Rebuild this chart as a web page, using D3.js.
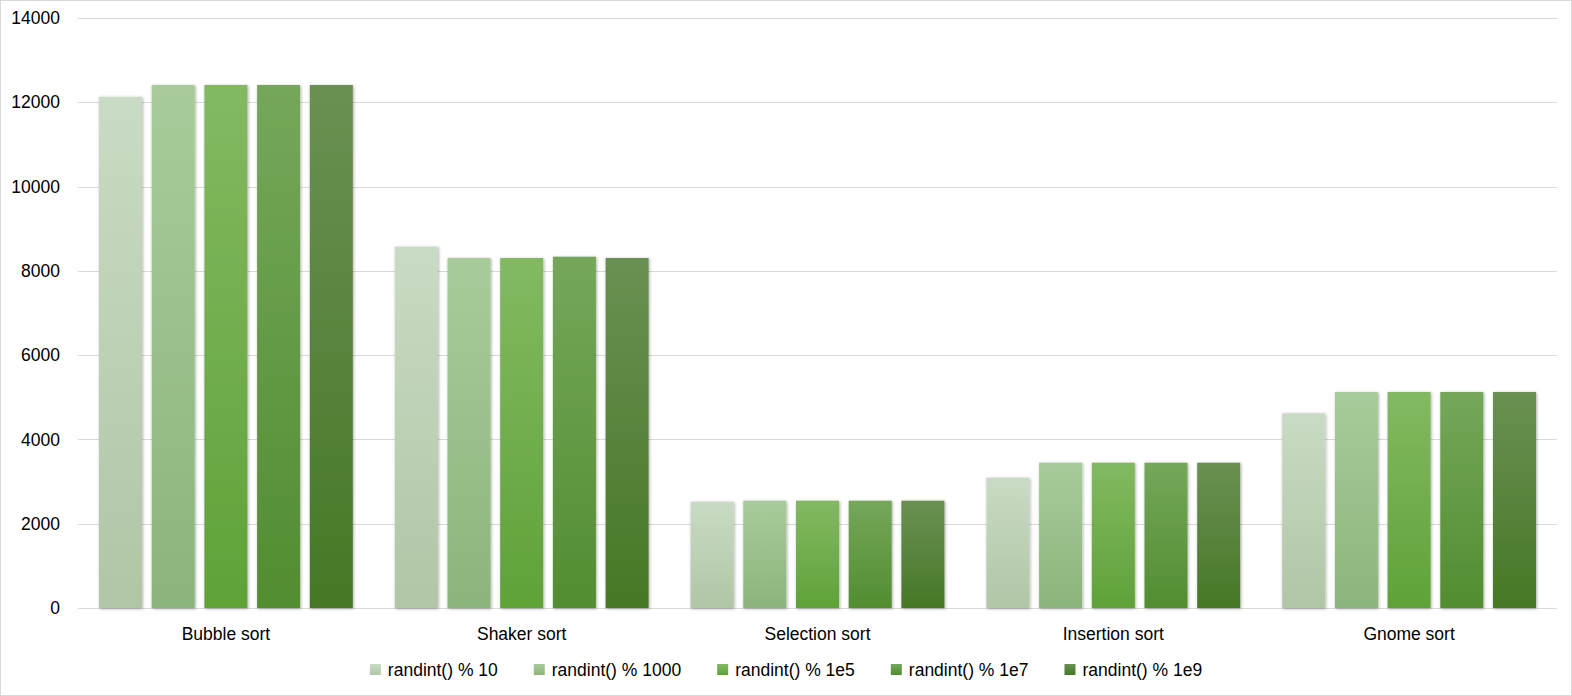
<!DOCTYPE html>
<html>
<head>
<meta charset="utf-8">
<script src="https://cdn.jsdelivr.net/npm/d3@7"></script>
<style>
  html, body { margin: 0; padding: 0; background: #fff; }
  svg { display: block; }
  text { font-family: "Liberation Sans", Arial, sans-serif; fill: #000; }
</style>
</head>
<body>
<svg id="chart" width="1572" height="696"></svg>
<script>
const categories = ["Bubble sort", "Shaker sort", "Selection sort", "Insertion sort", "Gnome sort"];
const seriesNames = ["randint() % 10", "randint() % 1000", "randint() % 1e5", "randint() % 1e7", "randint() % 1e9"];
const s10   = [12130, 8573, 2522, 3092, 4620];
const s1000 = [12410, 8305, 2546, 3448, 5126];
const s1e5  = [12410, 8305, 2546, 3448, 5126];
const s1e7  = [12410, 8336, 2546, 3448, 5126];
const s1e9  = [12410, 8305, 2546, 3448, 5126];
const seriesValues = [s10, s1000, s1e5, s1e7, s1e9];
const yTicks = [0, 2000, 4000, 6000, 8000, 10000, 12000, 14000];
const gradTop    = ["#c9dbc4", "#a9cb9b", "#83b962", "#75a75a", "#6a9052"];
const gradBottom = ["#b0c6a6", "#8cb47d", "#5fa238", "#528d31", "#467826"];

const W = 1572, H = 696;
const margin = { left: 78, right: 15, top: 18, bottom: 88 };
const svg = d3.select("#chart");

// border
svg.append("rect").attr("x", 0.5).attr("y", 0.5).attr("width", W - 1).attr("height", H - 1)
  .attr("fill", "#fff").attr("stroke", "#d9d9d9");

const defs = svg.append("defs");
gradTop.forEach((c, i) => {
  const g = defs.append("linearGradient").attr("id", "g" + i)
    .attr("x1", 0).attr("y1", 0).attr("x2", 0).attr("y2", 1);
  g.append("stop").attr("offset", "0%").attr("stop-color", c);
  g.append("stop").attr("offset", "100%").attr("stop-color", gradBottom[i]);
});
const f = defs.append("filter").attr("id", "shadow")
  .attr("x", "-20%").attr("y", "-5%").attr("width", "140%").attr("height", "115%");
f.append("feDropShadow").attr("dx", 0.8).attr("dy", 0.8).attr("stdDeviation", 1.4)
  .attr("flood-color", "#000").attr("flood-opacity", 0.35);

const x0 = d3.scaleBand().domain(categories)
  .range([margin.left, W - margin.right])
  .paddingInner(0.142).paddingOuter(0.071);
const x1 = d3.scaleBand().domain(d3.range(seriesNames.length))
  .range([0, x0.bandwidth()]).paddingInner(0.184);
const y = d3.scaleLinear().domain([0, 14000]).range([H - margin.bottom, margin.top]);

// gridlines
svg.append("g").selectAll("line").data(yTicks).join("line")
  .attr("x1", margin.left).attr("x2", W - margin.right)
  .attr("y1", d => Math.round(y(d)) + 0.5).attr("y2", d => Math.round(y(d)) + 0.5)
  .attr("stroke", "#d9d9d9").attr("stroke-width", 1);

// y labels
svg.append("g").selectAll("text").data(yTicks).join("text")
  .attr("x", 60).attr("y", d => y(d)).attr("dy", "0.35em")
  .attr("text-anchor", "end").attr("font-size", "17.5px")
  .text(d => d);

// bars
const groups = svg.append("g").selectAll("g").data(categories).join("g")
  .attr("transform", c => `translate(${x0(c)},0)`);
groups.selectAll("rect").data((c, ci) => seriesValues.map((s, si) => ({ si, v: s[ci] })))
  .join("rect")
  .attr("x", d => x1(d.si)).attr("width", x1.bandwidth())
  .attr("y", d => y(d.v)).attr("height", d => y(0) - y(d.v))
  .attr("fill", d => `url(#g${d.si})`)
  .attr("filter", "url(#shadow)");

// category labels
svg.append("g").selectAll("text").data(categories).join("text")
  .attr("x", c => x0(c) + x0.bandwidth() / 2).attr("y", 634).attr("dy", "0.35em")
  .attr("text-anchor", "middle").attr("font-size", "17.5px")
  .text(c => c);

// legend
const leg = svg.append("g");
const sw = 11, gapT = 7, gapItem = 36;
const items = leg.selectAll("g").data(seriesNames).join("g");
items.append("rect").attr("width", sw).attr("height", sw).attr("y", 664)
  .attr("fill", (d, i) => `url(#g${i})`);
items.append("text").attr("x", sw + gapT).attr("y", 670).attr("dy", "0.35em")
  .attr("font-size", "17.5px").text(d => d);
let widths = [];
items.each(function () { widths.push(sw + gapT + this.querySelector("text").getComputedTextLength()); });
const total = d3.sum(widths) + gapItem * (widths.length - 1);
let cx = W / 2 - total / 2;
items.attr("transform", (d, i) => { const t = `translate(${cx},0)`; cx += widths[i] + gapItem; return t; });
</script>
</body>
</html>
